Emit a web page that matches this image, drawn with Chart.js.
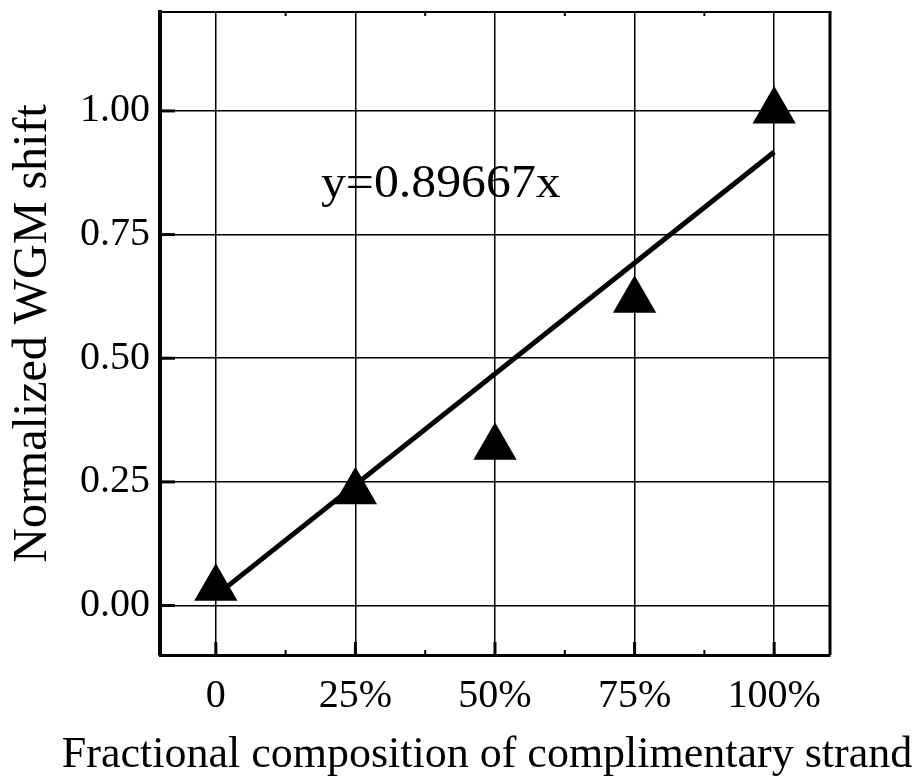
<!DOCTYPE html>
<html>
<head>
<meta charset="utf-8">
<script src="https://cdn.jsdelivr.net/npm/chart.js@4/dist/chart.umd.min.js"></script>
<style>
  html, body { margin: 0; padding: 0; background: #fff; }
  #wrap { width: 914px; height: 782px; }
</style>
</head>
<body>
<div id="wrap"><canvas id="chart" width="914" height="782"></canvas></div>
<script>
/* WGM shift vs fraction of complimentary strand */

// data
const fractions = [0, 25, 50, 75, 100];            // % complimentary strand
const wgmShift = [0.035, 0.23, 0.32, 0.617, 1.0];  // normalized shift
const fitX = [0, 100];
const fitY = [0.02, 0.917];
const fitLabel = 'y=0.89667x';
const xTitle = 'Fractional composition of complimentary strand';

const xTickValues = [0, 25, 50, 75, 100];
const xTickLabels = ['0', '25%', '50%', '75%', '100%'];
const yTickValues = [0, 0.25, 0.5, 0.75, 1.0];
const yTickLabels = ['0.00', '0.25', '0.50', '0.75', '1.00'];

const SERIF = '"Liberation Serif", "Times New Roman", serif';

/* ---- frame, inside ticks, x title and the fit equation ---- */
const framePlugin = {
  id: 'frame',
  afterDraw(chart) {
    const { ctx, chartArea: a, scales } = chart;
    const sx = scales.x, sy = scales.y;
    ctx.save();
    ctx.strokeStyle = '#000';
    ctx.lineCap = 'butt';

    // top + right borders
    ctx.lineWidth = 2;
    ctx.beginPath(); ctx.moveTo(a.left, a.top); ctx.lineTo(a.right + 1.5, a.top); ctx.stroke();
    ctx.lineWidth = 3;
    ctx.beginPath(); ctx.moveTo(a.right, a.top); ctx.lineTo(a.right, a.bottom); ctx.stroke();

    // major ticks
    ctx.lineWidth = 3;
    xTickValues.forEach((v) => {
      const px = sx.getPixelForValue(v);
      ctx.beginPath(); ctx.moveTo(px, a.bottom); ctx.lineTo(px, a.bottom - 13); ctx.stroke();
    });
    yTickValues.forEach((v) => {
      const py = sy.getPixelForValue(v);
      ctx.beginPath(); ctx.moveTo(a.left, py); ctx.lineTo(a.left + 15, py); ctx.stroke();
    });

    // minor ticks half way between majors (bottom + top)
    ctx.lineWidth = 2;
    for (let i = 0; i < xTickValues.length - 1; i++) {
      const px = sx.getPixelForValue((xTickValues[i] + xTickValues[i + 1]) / 2);
      ctx.beginPath(); ctx.moveTo(px, a.bottom); ctx.lineTo(px, a.bottom - 5); ctx.stroke();
      ctx.beginPath(); ctx.moveTo(px, a.top); ctx.lineTo(px, a.top + 4); ctx.stroke();
    }

    ctx.fillStyle = '#000';
    ctx.textAlign = 'center';

    // x title (chart.js would squeeze it to the plot width)
    ctx.font = '44px ' + SERIF;
    ctx.textBaseline = 'middle';
    ctx.fillText(xTitle, 487, 755);

    // fit equation, slightly wide like the original
    ctx.font = '47px ' + SERIF;
    ctx.textBaseline = 'alphabetic';
    ctx.translate(sx.getPixelForValue(40.3), sy.getPixelForValue(0.826));
    ctx.scale(1.06, 1);
    ctx.fillText(fitLabel, 0, 0);
    ctx.restore();
  },
};

new Chart(document.getElementById('chart'), {
  type: 'scatter',
  data: {
    datasets: [
      {
        label: 'fit',
        data: fitX.map((x, i) => ({ x, y: fitY[i] })),
        showLine: true,
        borderColor: '#000',
        borderWidth: 5,
        pointRadius: 0,
        order: 2,
      },
      {
        label: 'shift',
        data: fractions.map((x, i) => ({ x, y: wgmShift[i] })),
        pointStyle: 'triangle',
        pointRadius: 25,
        backgroundColor: '#000',
        borderColor: '#000',
        borderWidth: 0,
        order: 1,
      },
    ],
  },
  options: {
    responsive: false,
    animation: false,
    layout: { autoPadding: false, padding: { top: 12, right: 84, left: 0, bottom: 0 } },
    plugins: { legend: { display: false }, tooltip: { enabled: false } },
    scales: {
      x: {
        type: 'linear',
        min: -10, max: 110,
        afterBuildTicks: (s) => { s.ticks = xTickValues.map((value) => ({ value })); },
        afterFit: (s) => { s.height = 127; s.paddingLeft = 0; s.paddingRight = 0; },
        grid: { color: '#000', lineWidth: 1.5, drawTicks: false },
        border: { display: true, color: '#000', width: 3 },
        ticks: {
          color: '#000', padding: 17, maxRotation: 0,
          font: { family: SERIF, size: 40 },
          callback: (v, i) => xTickLabels[i],
        },
        title: { display: false },
      },
      y: {
        type: 'linear',
        min: -0.1, max: 1.2,
        afterBuildTicks: (s) => { s.ticks = yTickValues.map((value) => ({ value })); },
        afterFit: (s) => { s.width = 160; s.paddingTop = 0; s.paddingBottom = 0; },
        grid: { color: '#000', lineWidth: 1.5, drawTicks: false },
        border: { display: true, color: '#000', width: 4 },
        ticks: {
          color: '#000', padding: 10,
          font: { family: SERIF, size: 40 },
          callback: (v, i) => yTickLabels[i],
        },
        title: {
          display: true, text: 'Normalized WGM shift',
          color: '#000', font: { family: SERIF, size: 48, lineHeight: 1.2 },
          padding: { top: 5, bottom: 0 },
        },
      },
    },
  },
  plugins: [framePlugin],
});
</script>
</body>
</html>
